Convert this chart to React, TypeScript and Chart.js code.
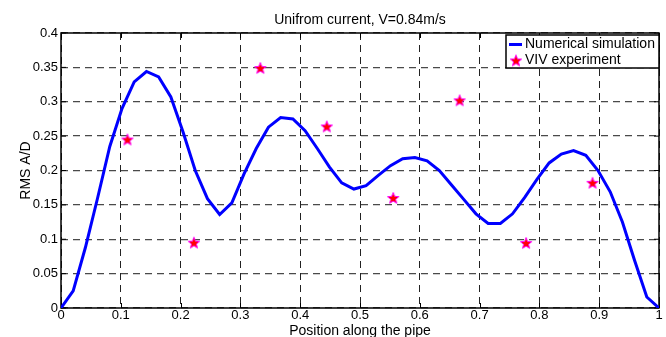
import React, { useEffect, useRef } from "react";
import { Chart, registerables } from "chart.js";

Chart.register(...registerables);

const titleText = "Unifrom current, V=0.84m/s";
const xTitle = "Position along the pipe";
const yTitle = "RMS A/D";
const seriesNames = ["Numerical simulation", "VIV experiment"];

const xTickLabels = ["0", "0.1", "0.2", "0.3", "0.4", "0.5", "0.6", "0.7", "0.8", "0.9", "1"];
const yTickLabels = ["0", "0.05", "0.1", "0.15", "0.2", "0.25", "0.3", "0.35", "0.4"];

const simX = [
  0, 0.0204, 0.0408, 0.0612, 0.0816, 0.102, 0.1224, 0.1429, 0.1633, 0.1837,
  0.2041, 0.2245, 0.2449, 0.2653, 0.2857, 0.3061, 0.3265, 0.3469, 0.3673, 0.3878,
  0.4082, 0.4286, 0.449, 0.4694, 0.4898, 0.5102, 0.5306, 0.551, 0.5714, 0.5918,
  0.6122, 0.6327, 0.6531, 0.6735, 0.6939, 0.7143, 0.7347, 0.7551, 0.7755, 0.7959,
  0.8163, 0.8367, 0.8571, 0.8776, 0.898, 0.9184, 0.9388, 0.9592, 0.9796, 1,
];
const simY = [
  0, 0.025, 0.088, 0.16, 0.235, 0.29, 0.329, 0.344, 0.336, 0.307,
  0.256, 0.2, 0.159, 0.136, 0.153, 0.195, 0.232, 0.263, 0.277, 0.275,
  0.258, 0.232, 0.205, 0.182, 0.173, 0.178, 0.193, 0.207, 0.217, 0.219,
  0.214, 0.2, 0.179, 0.158, 0.137, 0.123, 0.123, 0.137, 0.161, 0.187,
  0.211, 0.224, 0.229, 0.222, 0.2, 0.169, 0.125, 0.069, 0.016, 0,
];

const expX = [0.1111, 0.2222, 0.3333, 0.4444, 0.5556, 0.6667, 0.7778, 0.8889];
const expY = [0.245, 0.095, 0.349, 0.264, 0.16, 0.302, 0.0945, 0.182];

const FONT = "'Liberation Sans', Arial, Helvetica, sans-serif";

function makeStar(): HTMLCanvasElement {
  const s = 14;
  const c = document.createElement("canvas");
  c.width = s;
  c.height = s;
  const ctx = c.getContext("2d")!;
  const cx = s / 2;
  const cy = s / 2 + 0.5;
  const outer = 6;
  const inner = 2.6;
  ctx.beginPath();
  for (let i = 0; i < 10; i++) {
    const ang = -Math.PI / 2 + (i * Math.PI) / 5;
    const r = i % 2 === 0 ? outer : inner;
    const px = cx + r * Math.cos(ang);
    const py = cy + r * Math.sin(ang);
    if (i === 0) ctx.moveTo(px, py);
    else ctx.lineTo(px, py);
  }
  ctx.closePath();
  ctx.fillStyle = "#ff0000";
  ctx.fill();
  ctx.strokeStyle = "#ff00ff";
  ctx.lineWidth = 1;
  ctx.stroke();
  return c;
}

export default function App() {
  const ref = useRef<HTMLCanvasElement | null>(null);

  useEffect(() => {
    if (!ref.current) return;
    const star = makeStar();

    const decor = {
      id: "decor",
      beforeDatasetsDraw(chart: any) {
        const { ctx, chartArea: a } = chart;
        const xs = chart.scales.x;
        const ys = chart.scales.y;
        ctx.save();
        ctx.setLineDash([]);
        ctx.strokeStyle = "#000";
        ctx.lineWidth = 1.5;
        ctx.strokeRect(a.left, a.top, a.right - a.left, a.bottom - a.top);
        // inward tick marks on all four sides
        ctx.lineWidth = 1;
        const tl = 5;
        ctx.beginPath();
        xs.ticks.forEach((t: any) => {
          const px = Math.round(xs.getPixelForValue(t.value)) + 0.5;
          ctx.moveTo(px, a.bottom);
          ctx.lineTo(px, a.bottom - tl);
          ctx.moveTo(px, a.top);
          ctx.lineTo(px, a.top + tl);
        });
        ys.ticks.forEach((t: any) => {
          const py = ys.getPixelForValue(t.value);
          ctx.moveTo(a.left, py);
          ctx.lineTo(a.left + tl, py);
          ctx.moveTo(a.right, py);
          ctx.lineTo(a.right - tl, py);
        });
        ctx.stroke();
        ctx.restore();
      },
      afterDraw(chart: any) {
        const { ctx, chartArea: a } = chart;
        ctx.save();
        // title
        ctx.fillStyle = "#000";
        ctx.font = `14px ${FONT}`;
        ctx.textAlign = "center";
        ctx.textBaseline = "middle";
        ctx.fillText(titleText, (a.left + a.right) / 2, 20.5);

        // legend box
        const ds = chart.data.datasets;
        const bw = 153;
        const bh = 33;
        const bx = a.right - bw;
        const by = a.top + 2;
        ctx.fillStyle = "#fff";
        ctx.fillRect(bx, by, bw, bh);
        ctx.strokeStyle = "#000";
        ctx.lineWidth = 1.5;
        ctx.setLineDash([]);
        ctx.strokeRect(bx, by, bw, bh);

        const r1 = by + 9.5;
        const r2 = by + 25.5;
        ctx.strokeStyle = ds[0].borderColor;
        ctx.lineWidth = 3;
        ctx.beginPath();
        ctx.moveTo(bx + 3, r1);
        ctx.lineTo(bx + 16, r1);
        ctx.stroke();
        ctx.drawImage(star, bx + 10 - star.width / 2, r2 - star.height / 2);

        ctx.fillStyle = "#000";
        ctx.font = `14px ${FONT}`;
        ctx.textAlign = "left";
        ctx.textBaseline = "middle";
        ctx.fillText(ds[0].label, bx + 19, r1);
        ctx.fillText(ds[1].label, bx + 19, r2);
        ctx.restore();
      },
    };

    const chart = new Chart(ref.current, {
      type: "line",
      data: {
        datasets: [
          {
            label: seriesNames[0],
            data: simX.map((x, i) => ({ x, y: simY[i] })),
            borderColor: "#0000ff",
            borderWidth: 3,
            pointRadius: 0,
            tension: 0,
            fill: false,
          },
          {
            label: seriesNames[1],
            data: expX.map((x, i) => ({ x, y: expY[i] })),
            showLine: false,
            pointStyle: star as any,
            pointRadius: 6,
            borderColor: "#ff00ff",
            backgroundColor: "#ff0000",
          },
        ],
      },
      plugins: [decor],
      options: {
        animation: false,
        responsive: false,
        devicePixelRatio: 1,
        layout: { padding: { left: 0, right: 7, top: 33, bottom: 0 } },
        plugins: {
          legend: { display: false },
          title: { display: false },
          tooltip: { enabled: false },
        },
        scales: {
          x: {
            type: "linear",
            min: 0,
            max: 1,
            afterFit: (s: any) => {
              s.height = 29;
            },
            ticks: {
              stepSize: 0.1,
              autoSkip: false,
              maxRotation: 0,
              padding: 0,
              color: "#000",
              font: { family: FONT, size: 13 },
              callback: (_v: any, i: number) => xTickLabels[i],
            },
            grid: { color: "#222", lineWidth: 1, drawTicks: false },
            border: { display: false, dash: [7, 5] },
            title: {
              display: true,
              text: xTitle,
              color: "#000",
              font: { family: FONT, size: 14, lineHeight: 1 },
              padding: { top: 0, bottom: -1 },
            },
          },
          y: {
            type: "linear",
            min: 0,
            max: 0.4,
            afterFit: (s: any) => {
              s.width = 61;
            },
            ticks: {
              stepSize: 0.05,
              autoSkip: false,
              padding: 3,
              color: "#000",
              font: { family: FONT, size: 13 },
              callback: (_v: any, i: number) => yTickLabels[i],
            },
            grid: { color: "#4a4a4a", lineWidth: 1.3, drawTicks: false },
            border: { display: false, dash: [7, 5] },
            title: {
              display: true,
              text: yTitle,
              color: "#000",
              font: { family: FONT, size: 14, lineHeight: 1 },
              padding: { top: 19, bottom: 0 },
            },
          },
        },
      },
    });
    return () => chart.destroy();
  }, []);

  return (
    <div style={{ position: "absolute", left: 0, top: 0, width: 666, height: 337, background: "#fff" }}>
      <canvas ref={ref} width={666} height={337} style={{ display: "block" }} />
    </div>
  );
}
